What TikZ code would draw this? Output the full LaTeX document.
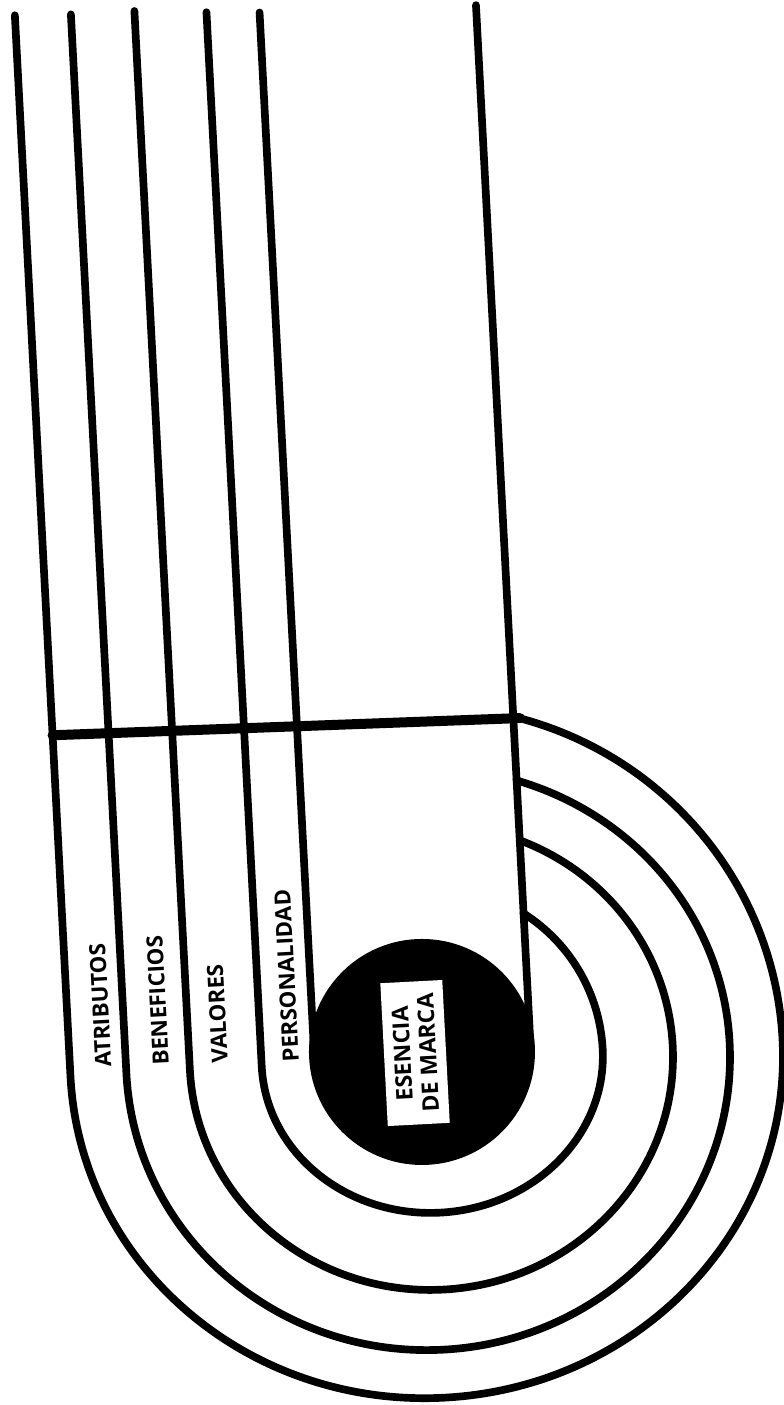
\documentclass[tikz,border=0pt]{standalone}
\usepackage{fontspec}
\setmainfont{Open Sans}
\newfontfamily\bandfont{Open Sans}
\usetikzlibrary{positioning}

\begin{document}
\begin{tikzpicture}[x=0.3mm, y=0.3mm,
track/.style={line width=2.3mm, line cap=round, line join=round},
crossbar/.style={line width=3mm, line cap=round},
core/.style={circle, fill=black, minimum size=67.8mm, inner sep=0pt},
bandtext/.style={font=\bandfont\bfseries\fontsize{19}{23}\selectfont, rotate=93, anchor=west, inner sep=0pt},
coretext/.style={font=\bandfont\bfseries\fontsize{19.5}{22}\selectfont, fill=white, rotate=93, align=center, minimum width=42.9mm, minimum height=18.6mm, inner sep=0pt} ]

\useasboundingbox (0,0) rectangle (784,-1405);

\begin{scope}[shift={(429,-1058)}, rotate=3]

% tracks wrapping round the core
\draw[track] (-359,1063) -- (-359,0) arc[start angle=180, end angle=360, x radius=356.5, y radius=340] arc[start angle=0, end angle=71.9, x radius=356.5, y radius=352];

\draw[track] (-303,1061) -- (-303,0) arc[start angle=180, end angle=360, x radius=302, y radius=292] arc[start angle=0, end angle=70.1, x radius=302, y radius=290];

\draw[track] (-239.4,1061) -- (-239.4,0) arc[start angle=180, end angle=360, x radius=241.7, y radius=232] arc[start angle=0, end angle=65.6, x radius=241.7, y radius=233.5];

\draw[track] (-167.5,1056) -- (-167.5,0) arc[start angle=180, end angle=360, x radius=170.7, y radius=155] arc[start angle=0, end angle=54.7, x radius=170.7, y radius=171];

% stem into the core
\draw[track] (-114.5,1053) -- (-114.5,5);

\draw[track] (102,1049) -- (102,5);

\draw[crossbar] (-359,342) -- (108.7,334.7);

\node[core] (core) at (-6.7,6.4) {};

\node[coretext] (esencia) at (-13.7,5.7) {ESENCIA\\DE MARCA};

\node[bandtext] (atrib) at (-325.5,8) {ATRIBUTOS};

\node[bandtext] (benef) at (-268,7) {BENEFICIOS};

\node[bandtext] (valor) at (-209,6) {VALORES};

\node[bandtext] (perso) at (-138,3) {PERSONALIDAD};

\end{scope}

\end{tikzpicture}
\end{document}
